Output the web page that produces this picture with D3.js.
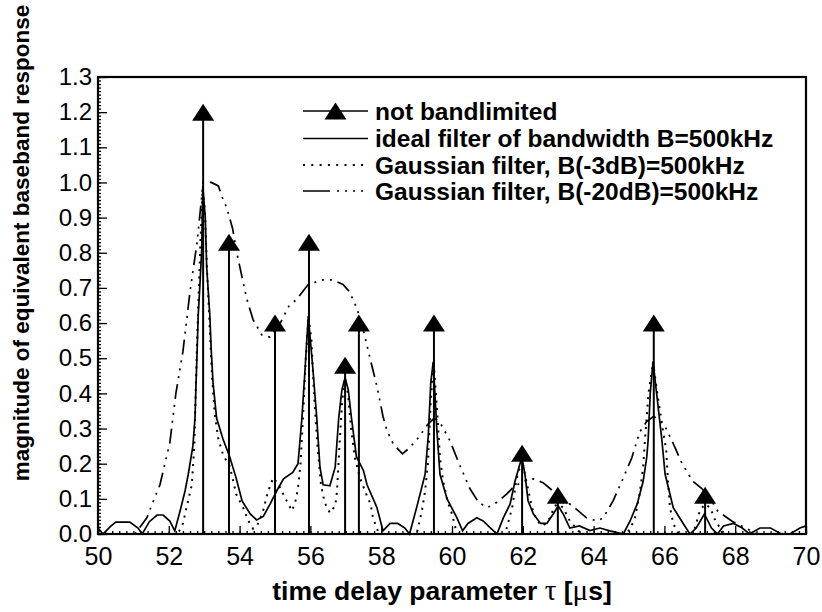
<!DOCTYPE html>
<html><head><meta charset="utf-8">
<script src="https://cdn.jsdelivr.net/npm/d3@7"></script>
<style>body{margin:0;background:#fff}svg{display:block}</style>
</head><body><svg id="c" width="822" height="612"></svg>
<script>
// ---------------- DATA ----------------
const impulseT = [52.97, 53.7, 55.0, 55.96, 56.98, 57.37, 59.49, 61.98, 62.99, 65.7, 67.15];
const impulseV = [1.2, 0.83, 0.6, 0.83, 0.48, 0.6, 0.6, 0.23, 0.11, 0.6, 0.11];

const idealData = [
 [50.0,0.017],[50.14,0.0],[50.34,0.02],[50.5,0.034],[50.9,0.034],[51.13,0.017],[51.25,0.0],
 [51.45,0.035],[51.67,0.054],[51.84,0.054],[52.03,0.037],[52.17,0.009],[52.32,0.066],[52.46,0.123],
 [52.55,0.17],[52.68,0.25],[52.74,0.33],[52.77,0.43],[52.8,0.52],[52.83,0.62],[52.88,0.71],
 [52.93,0.81],[52.96,0.99],[53.03,0.9],[53.07,0.76],[53.16,0.62],[53.2,0.52],[53.25,0.43],
 [53.35,0.33],[53.53,0.27],[53.72,0.22],[53.9,0.16],[54.07,0.094],[54.3,0.057],[54.48,0.04],
 [54.67,0.05],[54.86,0.085],[55.05,0.123],[55.24,0.157],[55.5,0.175],[55.65,0.2],[55.76,0.33],
 [55.85,0.47],[55.94,0.62],[56.07,0.47],[56.18,0.33],[56.27,0.19],[56.36,0.14],[56.55,0.137],
 [56.7,0.19],[56.8,0.33],[56.89,0.41],[56.98,0.445],[57.07,0.41],[57.16,0.33],[57.3,0.22],
 [57.5,0.18],[57.6,0.14],[57.88,0.075],[58.05,0.009],[58.25,0.03],[58.47,0.03],[58.67,0.017],
 [58.8,0.0],[59.0,0.075],[59.24,0.17],[59.33,0.28],[59.4,0.43],[59.47,0.49],[59.57,0.3],
 [59.66,0.17],[59.86,0.1],[60.14,0.046],[60.3,0.009],[60.45,0.03],[60.7,0.046],[60.88,0.037],
 [61.12,0.014],[61.27,0.0],[61.45,0.046],[61.64,0.085],[61.78,0.15],[61.92,0.2],[61.98,0.215],
 [62.06,0.17],[62.15,0.094],[62.3,0.057],[62.5,0.03],[62.68,0.03],[62.86,0.057],[63.0,0.08],
 [63.14,0.057],[63.33,0.017],[63.6,0.023],[63.9,0.01],[64.18,0.017],[64.46,0.009],[64.84,0.0],
 [65.03,0.037],[65.23,0.085],[65.4,0.15],[65.5,0.217],[65.54,0.266],[65.6,0.4],[65.68,0.49],
 [65.78,0.4],[65.93,0.266],[66.02,0.17],[66.25,0.075],[66.53,0.03],[66.72,0.0],[66.9,0.017],
 [67.13,0.057],[67.33,0.017],[67.5,0.0],[67.67,0.023],[67.95,0.03],[68.2,0.017],[68.4,0.0],
 [68.7,0.017],[69.0,0.017],[69.3,0.0],[69.55,0.0],[69.83,0.017],[70.0,0.023]
];

const gauss3Data = [
 [50.0,0.0],[52.25,0.0],[52.4,0.03],[52.5,0.075],[52.65,0.14],[52.72,0.25],[52.76,0.4],[52.8,0.55],
 [52.85,0.7],[52.9,0.85],[52.96,0.98],[53.02,0.92],[53.08,0.75],[53.15,0.6],[53.22,0.45],[53.3,0.34],
 [53.4,0.27],[53.55,0.22],[53.7,0.2],[53.8,0.16],[53.9,0.114],[54.1,0.075],[54.25,0.037],[54.38,0.015],
 [54.5,0.025],[54.65,0.06],[54.8,0.12],[54.95,0.16],[55.1,0.14],[55.3,0.1],[55.48,0.066],[55.57,0.09],
 [55.65,0.13],[55.72,0.2],[55.8,0.35],[55.87,0.5],[55.95,0.62],[56.03,0.55],[56.1,0.4],[56.2,0.25],
 [56.3,0.14],[56.4,0.09],[56.55,0.06],[56.7,0.08],[56.75,0.12],[56.82,0.25],[56.9,0.38],[56.98,0.44],
 [57.06,0.4],[57.15,0.3],[57.25,0.22],[57.4,0.16],[57.55,0.12],[57.7,0.085],[57.77,0.046],[57.87,0.017],
 [57.95,0.0],[59.0,0.0],[59.04,0.017],[59.15,0.066],[59.24,0.123],[59.32,0.2],[59.4,0.38],[59.48,0.49],
 [59.58,0.35],[59.66,0.217],[59.75,0.15],[59.88,0.09],[60.0,0.057],[60.1,0.017],[60.2,0.0],[61.5,0.0],
 [61.58,0.03],[61.7,0.075],[61.83,0.16],[61.98,0.21],[62.1,0.15],[62.26,0.075],[62.4,0.037],[62.58,0.023],
 [62.77,0.046],[62.9,0.08],[63.0,0.085],[63.14,0.075],[63.33,0.037],[63.53,0.014],[63.65,0.0],[64.9,0.0],
 [65.03,0.014],[65.17,0.046],[65.3,0.114],[65.4,0.19],[65.45,0.266],[65.55,0.4],[65.68,0.49],[65.8,0.4],
 [65.95,0.3],[66.05,0.24],[66.1,0.15],[66.16,0.075],[66.25,0.03],[66.4,0.0],[66.8,0.0],[66.9,0.03],
 [67.0,0.066],[67.14,0.085],[67.3,0.075],[67.4,0.046],[67.57,0.017],[67.7,0.0],[70.0,0.0]
];

const gauss20Data = [
 [50.0,0.0],[51.05,0.0],[51.19,0.02],[51.38,0.046],[51.55,0.09],[51.75,0.14],[52.03,0.26],[52.2,0.4],
 [52.4,0.52],[52.6,0.69],[52.8,0.83],[52.9,0.93],[52.97,1.0],[53.2,1.0],[53.4,0.99],[53.5,0.96],
 [53.63,0.93],[53.8,0.87],[53.92,0.8],[54.2,0.67],[54.38,0.61],[54.63,0.566],[54.86,0.56],[55.15,0.6],
 [55.4,0.65],[55.6,0.666],[55.94,0.71],[56.35,0.723],[56.63,0.723],[56.92,0.71],[57.1,0.69],[57.3,0.645],
 [57.45,0.6],[57.66,0.51],[57.88,0.42],[58.05,0.335],[58.16,0.295],[58.34,0.256],[58.6,0.228],[58.8,0.245],
 [59.05,0.274],[59.3,0.31],[59.5,0.33],[59.66,0.317],[59.94,0.266],[60.2,0.2],[60.5,0.13],[60.75,0.09],
 [61.0,0.075],[61.27,0.09],[61.55,0.114],[61.7,0.13],[62.0,0.15],[62.3,0.157],[62.57,0.146],[63.0,0.11],
 [63.4,0.08],[63.8,0.046],[64.1,0.037],[64.27,0.046],[64.55,0.094],[64.84,0.16],[65.08,0.217],[65.3,0.29],
 [65.5,0.32],[65.7,0.335],[66.0,0.31],[66.25,0.257],[66.5,0.2],[66.8,0.15],[67.05,0.13],[67.3,0.1],
 [67.5,0.066],[67.9,0.037],[68.3,0.017],[68.6,0.0],[70.0,0.0]
];

const xTicks = [50,52,54,56,58,60,62,64,66,68,70];
const yTicks = [0,0.1,0.2,0.3,0.4,0.5,0.6,0.7,0.8,0.9,1.0,1.1,1.2,1.3];
const legendLabels = [
 "not bandlimited",
 "ideal filter of bandwidth B=500kHz",
 "Gaussian filter, B(-3dB)=500kHz",
 "Gaussian filter, B(-20dB)=500kHz"
];
const xTitleParts = ["time delay parameter ", "\u03C4", " [", "\u03BC", "s]"];
const yTitle = "magnitude of equivalent baseband response";

// ---------------- DRAW ----------------
const svg = d3.select("#c");
const L = 98, R = 806, T = 77, B = 534;
const x = d3.scaleLinear().domain([50,70]).range([L,R]);
const y = d3.scaleLinear().domain([0,1.3]).range([B,T]);
const sans = "'Liberation Sans', Arial, Helvetica, sans-serif";
const narrow = "'Liberation Sans Narrow', 'Arial Narrow', 'Liberation Sans', Arial, sans-serif";
const dotted = "2,5.5";
const dashDots = "15,6,2,6,2,6,2,6";

svg.append("rect").attr("width",822).attr("height",612).attr("fill","#fff");

// minor ticks
const gxMinor = svg.append("g").attr("transform",`translate(0,${B})`)
  .call(d3.axisBottom(x).tickValues(d3.range(0,101).map(i=>50+i*0.2)).tickSize(-3).tickFormat(""));
gxMinor.select(".domain").remove();
const gyMinor = svg.append("g").attr("transform",`translate(${L},0)`)
  .call(d3.axisLeft(y).tickValues(d3.range(0,131).map(i=>i*0.01)).tickSize(-3).tickFormat(""));
gyMinor.select(".domain").remove();

const gx = svg.append("g").attr("transform",`translate(0,${B})`)
  .call(d3.axisBottom(x).tickValues(xTicks).tickSize(-8).tickPadding(13).tickFormat(d3.format("d")));
gx.select(".domain").remove();
gx.selectAll("text").attr("font-family",narrow).attr("font-size",25).attr("fill","#000");
const gy = svg.append("g").attr("transform",`translate(${L},0)`)
  .call(d3.axisLeft(y).tickValues(yTicks).tickSize(-9).tickPadding(6).tickFormat(d3.format(".1f")));
gy.select(".domain").remove();
gy.selectAll("text").attr("font-family",sans).attr("font-size",24).attr("fill","#000");
svg.selectAll(".tick line").attr("stroke","#000").attr("stroke-width",1.3);

// curves
const line = d3.line().x(d=>x(d[0])).y(d=>y(d[1]));
svg.append("path").datum(gauss20Data).attr("d",line).attr("fill","none").attr("stroke","#000")
  .attr("stroke-width",1.7).attr("stroke-dasharray",dashDots);
svg.append("path").datum(gauss3Data).attr("d",line).attr("fill","none").attr("stroke","#000")
  .attr("stroke-width",2).attr("stroke-dasharray",dotted);
svg.append("path").datum(idealData).attr("d",line).attr("fill","none").attr("stroke","#000")
  .attr("stroke-width",1.7);

// impulses
const tri = "M0,-8.5L11,8.5L-11,8.5Z";
const imp = svg.append("g");
impulseT.forEach((t,i)=>{
  imp.append("line").attr("x1",x(t)).attr("x2",x(t)).attr("y1",y(0)).attr("y2",y(impulseV[i]))
    .attr("stroke","#000").attr("stroke-width",2);
  imp.append("path").attr("d",tri).attr("transform",`translate(${x(t)},${y(impulseV[i])})`).attr("fill","#000");
});

// frame
svg.append("rect").attr("x",L).attr("y",T).attr("width",R-L).attr("height",B-T)
  .attr("fill","none").attr("stroke","#000").attr("stroke-width",2.2);

// legend
const lg = svg.append("g");
const rowY = [111,138.5,165,191];
const lx0 = 303, lx1 = 368, tx = 375;
rowY.forEach((ry,i)=>{
  const ln = lg.append("line").attr("x1",lx0).attr("x2",lx1).attr("y1",ry).attr("y2",ry)
    .attr("stroke","#000").attr("stroke-width",i==2?2:1.7);
  if(i==2) ln.attr("stroke-dasharray","2,6.3");
  if(i==3) ln.attr("stroke-dasharray","27,7,2,6,2,6,2,6,2,20");
  if(i==0) lg.append("path").attr("d",tri).attr("transform",`translate(${(lx0+lx1)/2},${ry})`).attr("fill","#000");
  lg.append("text").attr("x",tx).attr("y",ry).attr("dy","0.36em").attr("font-family",sans)
    .attr("font-weight","bold").attr("font-size",24.5).text(legendLabels[i]);
});

// axis titles
const xt = svg.append("text").attr("x",442).attr("y",600).attr("text-anchor","middle")
  .attr("font-family",sans).attr("font-weight","bold").attr("font-size",26.5);
xTitleParts.forEach((p,i)=>{
  const ts = xt.append("tspan").text(p);
  if(i==1||i==3) ts.attr("font-family","'Liberation Serif','Times New Roman',serif").attr("font-weight","normal").attr("font-size",29);
});
svg.append("text").attr("transform","translate(29,243) rotate(-90)").attr("text-anchor","middle")
  .attr("font-family",sans).attr("font-weight","bold").attr("font-size",22.5).text(yTitle);
</script></body></html>
